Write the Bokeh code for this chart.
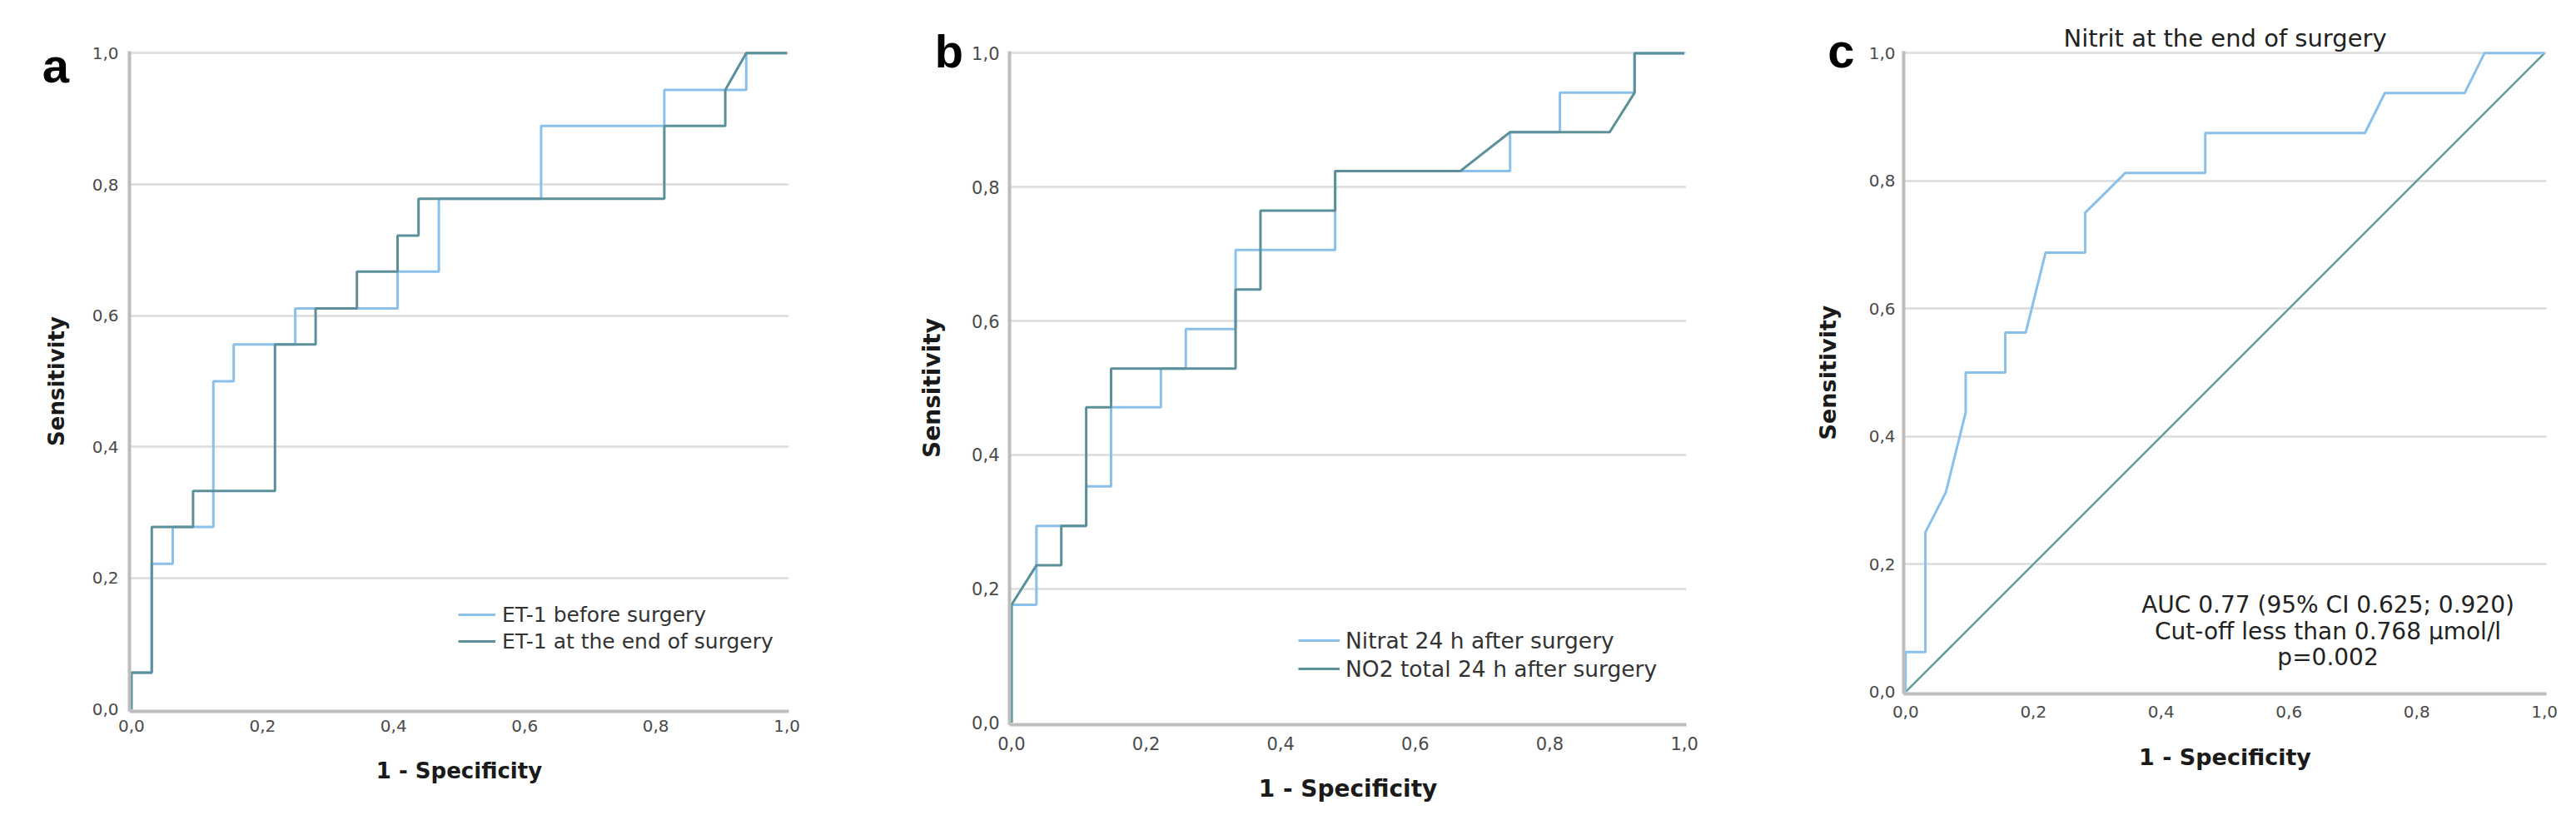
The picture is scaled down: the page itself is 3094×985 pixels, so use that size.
from bokeh.plotting import figure
from bokeh.layouts import row
from bokeh.models import Range1d, FixedTicker, CustomJSTickFormatter, Legend, LegendItem, Label
from bokeh.embed import file_html
from bokeh.resources import INLINE

# ---------------- data ----------------
ticks = [0.0, 0.2, 0.4, 0.6, 0.8, 1.0]
grid_ticks = [0.2, 0.4, 0.6, 0.8, 1.0]

# panel a
a_before_fpr = [0, 0, 0.031, 0.031, 0.063, 0.063, 0.125, 0.125, 0.156, 0.156, 0.25, 0.25,
                0.406, 0.406, 0.469, 0.469, 0.625, 0.625, 0.813, 0.813, 0.938, 0.938, 1.0]
a_before_tpr = [0, 0.056, 0.056, 0.222, 0.222, 0.278, 0.278, 0.5, 0.5, 0.556, 0.556, 0.611,
                0.611, 0.667, 0.667, 0.778, 0.778, 0.889, 0.889, 0.944, 0.944, 1.0, 1.0]
a_end_fpr = [0, 0, 0.031, 0.031, 0.094, 0.094, 0.219, 0.219, 0.281, 0.281, 0.344, 0.344,
             0.406, 0.406, 0.438, 0.438, 0.813, 0.813, 0.906, 0.906, 0.938, 1.0]
a_end_tpr = [0, 0.056, 0.056, 0.278, 0.278, 0.333, 0.333, 0.556, 0.556, 0.611, 0.611, 0.667,
             0.667, 0.722, 0.722, 0.778, 0.778, 0.889, 0.889, 0.944, 1.0, 1.0]
a_labels = ["ET-1 before surgery", "ET-1 at the end of surgery"]

# panel b
b_nitrat_fpr = [0, 0, 0.037, 0.037, 0.111, 0.111, 0.148, 0.148, 0.222, 0.222, 0.259, 0.259,
                0.333, 0.333, 0.481, 0.481, 0.741, 0.741, 0.815, 0.815, 0.926, 0.926, 1.0]
b_nitrat_tpr = [0, 0.176, 0.176, 0.294, 0.294, 0.353, 0.353, 0.471, 0.471, 0.529, 0.529, 0.588,
                0.588, 0.706, 0.706, 0.824, 0.824, 0.882, 0.882, 0.941, 0.941, 1.0, 1.0]
b_no2_fpr = [0, 0, 0.037, 0.074, 0.074, 0.111, 0.111, 0.148, 0.148, 0.333, 0.333, 0.370,
             0.370, 0.481, 0.481, 0.667, 0.741, 0.889, 0.926, 0.926, 1.0]
b_no2_tpr = [0, 0.176, 0.235, 0.235, 0.294, 0.294, 0.471, 0.471, 0.529, 0.529, 0.647, 0.647,
             0.765, 0.765, 0.824, 0.824, 0.882, 0.882, 0.941, 1.0, 1.0]
b_labels = ["Nitrat 24 h after surgery", "NO2 total 24 h after surgery"]

# panel c
c_fpr = [0, 0, 0.031, 0.031, 0.063, 0.094, 0.094, 0.156, 0.156, 0.188, 0.219, 0.281,
         0.281, 0.344, 0.469, 0.469, 0.719, 0.75, 0.875, 0.906, 1.0]
c_tpr = [0, 0.0625, 0.0625, 0.25, 0.3125, 0.4375, 0.5, 0.5, 0.5625, 0.5625, 0.6875, 0.6875,
         0.75, 0.8125, 0.8125, 0.875, 0.875, 0.9375, 0.9375, 1.0, 1.0]
ref_x = [0, 1]
ref_y = [0, 1]
c_title = "Nitrit at the end of surgery"
c_notes = ["AUC 0.77 (95% CI 0.625; 0.920)", "Cut-off less than 0.768 \u00b5mol/l", "p=0.002"]

panel_letters = ["a", "b", "c"]
x_title = "1 - Specificity"
y_title = "Sensitivity"

# ---------------- style ----------------
LIGHT = "#8AC0EC"
TEAL = "#5B909B"
DIAG = "#5E9E98"
FONT = "DejaVu Sans"


def make_fig(fw, fh, bl, br, bt, bb, tick_fs, lab_fs, xls, xas, yls, yas):
    p = figure(frame_width=fw, frame_height=fh,
               min_border_left=bl, min_border_right=br, min_border_top=bt, min_border_bottom=bb,
               x_range=Range1d(-0.003, 1.003), y_range=Range1d(-0.003, 1.003),
               output_backend="svg", toolbar_location=None, tools="")
    p.outline_line_color = None
    p.background_fill_color = "white"
    p.border_fill_color = "white"
    p.xgrid.visible = False
    p.ygrid.ticker = FixedTicker(ticks=grid_ticks)
    p.ygrid.grid_line_color = "#DCDCDC"
    p.ygrid.grid_line_width = 2.5
    fmt = CustomJSTickFormatter(code="return tick.toFixed(1).replace('.', ',');")
    for ax in (p.xaxis[0], p.yaxis[0]):
        ax.ticker = FixedTicker(ticks=ticks)
        ax.formatter = fmt
        ax.axis_line_color = "#BDBDBD"
        ax.axis_line_width = 4
        ax.major_tick_line_color = None
        ax.minor_tick_line_color = None
        ax.major_tick_out = 0
        ax.major_tick_in = 0
        ax.major_label_text_font = FONT
        ax.major_label_text_font_size = f"{tick_fs}px"
        ax.major_label_text_color = "#4A4A4A"
        ax.axis_label_text_font = FONT
        ax.axis_label_text_font_style = "bold"
        ax.axis_label_text_font_size = f"{lab_fs}px"
        ax.axis_label_text_color = "#1A1A1A"
    p.xaxis.axis_label = x_title
    p.yaxis.axis_label = y_title
    p.xaxis.major_label_standoff = xls
    p.xaxis.axis_label_standoff = xas
    p.yaxis.major_label_standoff = yls
    p.yaxis.axis_label_standoff = yas
    return p


def letter(p, x, y, t, size):
    p.add_layout(Label(x=x, y=y, text=t, text_font="Liberation Sans", text_font_style="bold",
                       text_font_size=f"{size}px", text_color="black", text_baseline="alphabetic"),
                 "left")


def legend(p, items, loc, gw, gs, rh, fs):
    leg = Legend(items=items, location=loc, margin=0, padding=0, spacing=0,
                 glyph_width=gw, glyph_height=rh, label_height=rh, label_standoff=gs,
                 label_text_font=FONT, label_text_font_size=f"{fs}px", label_text_color="#333333",
                 background_fill_alpha=0, border_line_alpha=0)
    p.add_layout(leg)


# panel a
pa = make_fig(792, 793, 155, 105, 45, 131, 20, 26, 10, 29, 13, 25)
ra1 = pa.line(a_before_fpr, a_before_tpr, line_color=LIGHT, line_width=3)
ra2 = pa.line(a_end_fpr, a_end_tpr, line_color=TEAL, line_width=3)
legend(pa, [LegendItem(label=a_labels[0], renderers=[ra1]),
            LegendItem(label=a_labels[1], renderers=[ra2])], (395, 68), 45, 8, 32, 25)
letter(pa, -0.136, 0.982, panel_letters[0], 58)

# panel b
pb = make_fig(813, 809, 160, 107, 55, 105, 21, 28, 14, 27, 12, 28)
rb1 = pb.line(b_nitrat_fpr, b_nitrat_tpr, line_color=LIGHT, line_width=3)
rb2 = pb.line(b_no2_fpr, b_no2_tpr, line_color=TEAL, line_width=3)
legend(pb, [LegendItem(label=b_labels[0], renderers=[rb1]),
            LegendItem(label=b_labels[1], renderers=[rb2])], (347, 50), 50, 7, 34, 26.5)
letter(pb, -0.114, 1.003, panel_letters[1], 56)

# panel c
pc = make_fig(772, 772, 154, 16, 61, 136, 20, 27, 14, 29, 10, 31)
pc.line(ref_x, ref_y, line_color=DIAG, line_width=2.5)
pc.line(c_fpr, c_tpr, line_color=LIGHT, line_width=3)
letter(pc, -0.122, 1.004, panel_letters[2], 58)
pc.add_layout(Label(x=0.5, y=1.0227, text=c_title, text_font=FONT, text_font_size="29px",
                    text_color="#222222", text_align="center", text_baseline="middle"), "above")
note_y = [0.136, 0.0946, 0.0544]
for t, yy in zip(c_notes, note_y):
    pc.add_layout(Label(x=0.661, y=yy, text=t, text_font=FONT, text_font_size="28px",
                        text_color="#222222", text_align="center", text_baseline="middle"))

layout = row(pa, pb, pc)
open("out.html", "w").write(file_html(layout, INLINE))
